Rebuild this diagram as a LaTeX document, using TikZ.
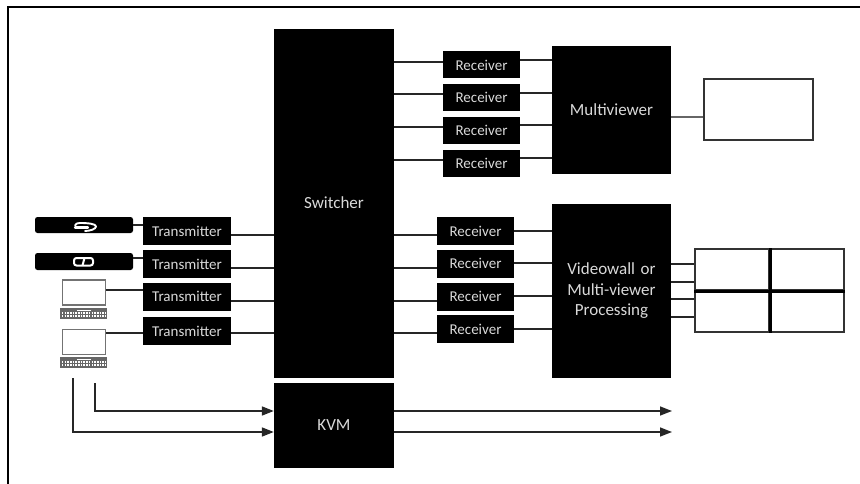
\documentclass[tikz,border=0pt]{standalone}
\usepackage{fontspec}
\setmainfont{Carlito}
\usetikzlibrary{arrows.meta}
\definecolor{wirec}{gray}{0.15}
\definecolor{txtc}{gray}{0.85}
\tikzset{
  blk/.style={fill=black,draw=none,text=txtc,inner sep=0pt,font=\fontsize{15}{18}\selectfont,align=center},
  big/.style={font=\fontsize{17}{20.5}\selectfont},
  wire/.style={draw=wirec,line width=1.6pt},
  arrowwire/.style={wire,-{Triangle[length=12pt,width=9pt]}},
  pane/.style={draw=black!80,line width=2pt,fill=white,inner sep=0pt},
  lapscreen/.style={draw=black!55,line width=1.8pt,fill=white,inner sep=0pt},
  lapkeys/.style={fill=black!60,draw=none,inner sep=0pt},
  pill/.style={fill=black,draw=none,rounded corners=2.5pt,text=white,inner sep=0pt}
}
\begin{document}
\begin{tikzpicture}[x=1pt,y=-1pt]
\useasboundingbox (0,0) rectangle (860,484);
\draw[black,line width=2pt] (8,484) -- (8,7) -- (860,7);
% main blocks
\node[blk,big,minimum width=120pt,minimum height=349pt] (sw) at (334,203.5) {};
\node[blk,big] at (334,203) {Switcher};
\node[blk,big,minimum width=120pt,minimum height=85pt] (kvm) at (334,425.5) {KVM};
\node[blk,big,minimum width=119pt,minimum height=128pt] (mv) at (611.5,110) {Multiviewer};
\node[blk,big,minimum width=119pt,minimum height=174pt,text width=110pt] (vw) at (611.5,291) {Videowall or\\Multi-viewer\\Processing};
% transmitters
\foreach \n/\y in {t1/231,t2/264,t3/296.5,t4/331}
  \node[blk,minimum width=88pt,minimum height=28pt] (\n) at (187,\y) {Transmitter};
% receivers
\foreach \n/\y in {ra/65,rb/97.5,rc/130.5,rd/163.5}
  \node[blk,minimum width=77pt,minimum height=27pt] (\n) at (481.5,\y) {Receiver};
\foreach \n/\y in {re/231,rf/263.5,rg/296.5,rh/329}
  \node[blk,minimum width=77pt,minimum height=28pt] (\n) at (475.5,\y) {Receiver};
% sources
\node[pill,minimum width=98pt,minimum height=16pt] (br) at (84,225) {};
\node[pill,minimum width=98pt,minimum height=17pt] (cd) at (84,261.5) {};
\node[lapscreen,minimum width=43pt,minimum height=25pt] (l1) at (84,292.5) {};
\node[lapkeys,minimum width=47pt,minimum height=11pt] (k1) at (83.5,313.5) {};
\node[lapscreen,minimum width=43pt,minimum height=25pt] (l2) at (84,342) {};
\node[lapkeys,minimum width=47pt,minimum height=11pt] (k2) at (83.5,362.5) {};
\foreach \k in {k1,k2}{
  \draw[white,line width=1.2pt,dash pattern=on 1.6pt off 1.1pt] ([xshift=2pt,yshift=-2.5pt]\k.west) -- ([xshift=-2pt,yshift=-2.5pt]\k.east);
  \draw[white,line width=1.2pt,dash pattern=on 1.6pt off 1.1pt] ([xshift=2pt,yshift=0.5pt]\k.west) -- ([xshift=-2pt,yshift=0.5pt]\k.east);
  \fill[white] ([xshift=-7pt,yshift=2.5pt]\k.center) rectangle ([xshift=7pt,yshift=4pt]\k.center);
}
% disc logos
\draw[white,line width=1.9pt,line cap=round,line join=round] (75,225.5) .. controls (75,223.5) and (78,223) .. (80,223) .. controls (89,223) and (96,224) .. (96,226.5) .. controls (96,229) and (90,231) .. (85,231);
\draw[white,line width=2.2pt,line cap=round] (75,227.5) -- (88,227.5);
\draw[white,line width=2pt,rounded corners=2.5pt] (74,258) rectangle (93,265.5);
\draw[white,line width=2pt] (84.5,258) -- (82.5,265.5);
% source to transmitter
\draw[wire] (br.east) -- (t1.west |- br.east);
\coordinate (c2) at (cd.east |- 0,258);
\draw[wire] (c2) -- (t2.west |- c2);
\draw[wire] (l1.east |- 0,290) -- (t3.west |- 0,290);
\draw[wire] (l2.east |- 0,333) -- (t4.west |- 0,333);
% transmitter to switcher
\foreach \n/\y in {t1/235,t2/268,t3/301,t4/333}
  \draw[wire] (\n.east |- 0,\y) -- (sw.west |- 0,\y);
% switcher to receivers
\foreach \n/\y in {ra/62,rb/94,rc/127,rd/160,re/235,rf/268,rg/301,rh/333}
  \draw[wire] (sw.east |- 0,\y) -- (\n.west |- 0,\y);
% receivers to processors
\foreach \n/\y in {ra/60,rb/93,rc/125,rd/158}
  \draw[wire] (\n.east |- 0,\y) -- (mv.west |- 0,\y);
\foreach \n/\y in {re/231,rf/263,rg/296,rh/329}
  \draw[wire] (\n.east |- 0,\y) -- (vw.west |- 0,\y);
% screens
\node[pane,minimum width=109pt,minimum height=61pt] (scr) at (758.5,109.5) {};
\draw[draw=black!60,line width=1.6pt] (mv.east |- 0,117) -- (scr.west |- 0,117);
\node[pane,minimum width=74pt,minimum height=41pt] (w1) at (732,269.5) {};
\node[pane,minimum width=75pt,minimum height=41pt] (w2) at (806.5,269.5) {};
\node[pane,minimum width=74pt,minimum height=42pt] (w3) at (732,311) {};
\node[pane,minimum width=75pt,minimum height=42pt] (w4) at (806.5,311) {};
\draw[black,line width=3pt] (w1.north east) -- (w3.south east);
\draw[black,line width=3pt] (w1.south west) -- (w2.south east);
\foreach \y/\w in {264/w1,282/w1,299/w3,317/w3}
  \draw[wire] (vw.east |- 0,\y) -- (\w.west |- 0,\y);
% KVM
\coordinate (a1) at (95,383);
\coordinate (a2) at (73,378);
\draw[arrowwire] (a1) |- (kvm.west |- 0,411);
\draw[arrowwire] (a2) |- (kvm.west |- 0,432);
\coordinate (o1) at (672,411);
\coordinate (o2) at (672,432);
\draw[arrowwire] (kvm.east |- o1) -- (o1);
\draw[arrowwire] (kvm.east |- o2) -- (o2);
\end{tikzpicture}
\end{document}
